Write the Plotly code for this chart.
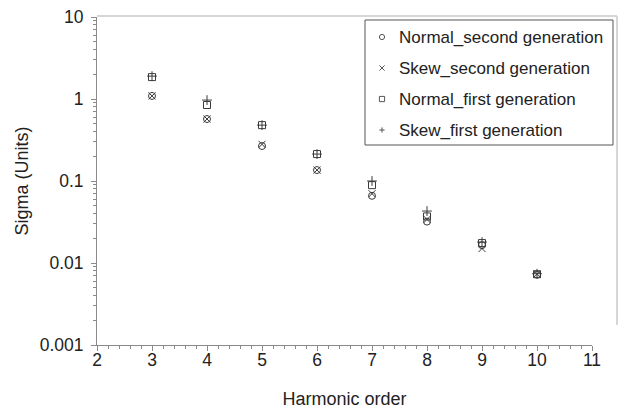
import plotly.graph_objects as go

harmonic_order = [3, 4, 5, 6, 7, 8, 9, 10]

normal_second = [1.09, 0.57, 0.267, 0.136, 0.066, 0.032, 0.0165, 0.0072]
skew_second = [1.09, 0.57, 0.28, 0.136, 0.07, 0.034, 0.015, 0.0073]
normal_first = [1.85, 0.845, 0.48, 0.213, 0.089, 0.037, 0.0175, 0.0073]
skew_first = [1.9, 0.97, 0.48, 0.213, 0.10, 0.043, 0.018, 0.0074]

series_names = ["Normal_second generation", "Skew_second generation",
                "Normal_first generation", "Skew_first generation"]
series_values = [normal_second, skew_second, normal_first, skew_first]
series_symbols = ["circle-open", "x-thin-open", "square-open", "cross-thin-open"]

MARK = "#3a3a3a"
AXIS = "#8a8a8a"
FONT = "Liberation Sans, Arial"
W, H = 628, 412
L, R, T, B = 97, 36, 17, 67


def px(x):
    """page pixel column -> paper x"""
    return (x - L) / (W - L - R)


def py(y):
    """page pixel row -> paper y"""
    return (H - B - y) / (H - T - B)


fig = go.Figure()
for name, vals, sym in zip(series_names, series_values, series_symbols):
    fig.add_trace(go.Scatter(
        x=harmonic_order, y=vals, mode="markers", name=name, showlegend=False,
        marker=dict(symbol=sym, size=7, color=MARK, line=dict(width=1, color=MARK)),
    ))

axis_common = dict(
    showline=True, linecolor=AXIS, linewidth=1,
    ticks="outside", tickcolor=AXIS, ticklen=5,
    showgrid=False, zeroline=False, automargin=False,
    tickfont=dict(family=FONT, size=17.5, color="#222222"),
    title_font=dict(family=FONT, size=18, color="#222222"),
)

fig.update_xaxes(
    range=[2, 11], dtick=1, tick0=2,
    title_text="Harmonic order", title_standoff=23,
    ticklabelstandoff=-6,
    minor=dict(dtick=0.2, ticks="outside", ticklen=3, tickcolor=AXIS),
    **axis_common,
)
fig.update_yaxes(
    type="log", range=[-3, 1], dtick=1,
    tickvals=[0.001, 0.01, 0.1, 1, 10],
    ticktext=["0.001", "0.01", "0.1", "1", "10"],
    title_text="Sigma (Units)", title_standoff=6,
    ticklabelstandoff=4,
    minor=dict(dtick="D1", ticks="outside", ticklen=3, tickcolor=AXIS),
    **axis_common,
)

# chart frame (top and right edges)
shapes = [
    dict(type="line", xref="paper", yref="paper", x0=px(97), x1=px(617),
         y0=py(16), y1=py(16), line=dict(color="#c8c8c8", width=1.5)),
    dict(type="line", xref="paper", yref="paper", x0=px(617), x1=px(617),
         y0=py(16), y1=py(325), line=dict(color="#c8c8c8", width=1.5)),
]

# legend box with keys and labels
shapes.append(dict(type="rect", xref="paper", yref="paper",
                   x0=px(365), x1=px(613), y0=py(145), y1=py(20),
                   line=dict(color="#555555", width=1), fillcolor="white", layer="above"))
annotations = []
key_x, text_x, r = 382, 397, 2.6
key_line = dict(color="#555555", width=1)
for i, (name, sym) in enumerate(zip(series_names, series_symbols)):
    cy = 37 + 31 * i
    if sym.startswith("circle"):
        shapes.append(dict(type="circle", xref="paper", yref="paper",
                           x0=px(key_x - r), x1=px(key_x + r), y0=py(cy + r), y1=py(cy - r),
                           line=key_line, layer="above"))
    elif sym.startswith("square"):
        shapes.append(dict(type="rect", xref="paper", yref="paper",
                           x0=px(key_x - r), x1=px(key_x + r), y0=py(cy + r), y1=py(cy - r),
                           line=key_line, layer="above"))
    elif sym.startswith("x"):
        for s in (1, -1):
            shapes.append(dict(type="line", xref="paper", yref="paper",
                               x0=px(key_x - r), x1=px(key_x + r),
                               y0=py(cy - s * r), y1=py(cy + s * r),
                               line=key_line, layer="above"))
    else:
        shapes.append(dict(type="line", xref="paper", yref="paper",
                           x0=px(key_x - r), x1=px(key_x + r), y0=py(cy), y1=py(cy),
                           line=key_line, layer="above"))
        shapes.append(dict(type="line", xref="paper", yref="paper",
                           x0=px(key_x), x1=px(key_x), y0=py(cy - r), y1=py(cy + r),
                           line=key_line, layer="above"))
    annotations.append(dict(xref="paper", yref="paper", x=px(text_x), y=py(cy),
                            xanchor="left", yanchor="middle", showarrow=False,
                            text=name, font=dict(family=FONT, size=17, color="#222222")))

fig.update_layout(
    width=W, height=H,
    margin=dict(l=L, r=R, t=T, b=B),
    paper_bgcolor="white", plot_bgcolor="white",
    showlegend=False,
    shapes=shapes,
    annotations=annotations,
)

fig.write_html("out.html")
